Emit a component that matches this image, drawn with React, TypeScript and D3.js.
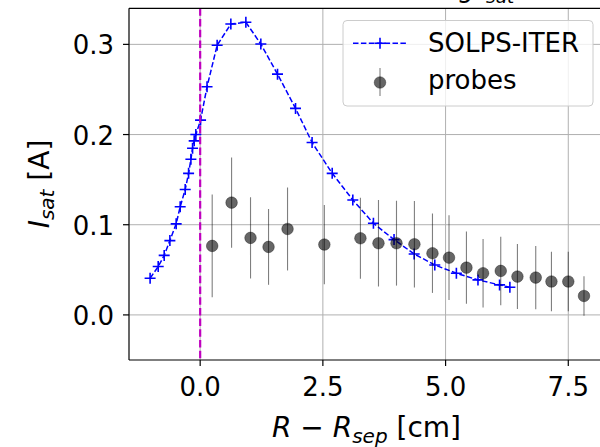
import React from "react";
import * as d3 from "d3";

const solpsX = [-1.02, -0.855, -0.733, -0.617, -0.489, -0.407, -0.305, -0.236, -0.189, -0.155, -0.122, -0.088, 0.008, 0.14, 0.346, 0.625, 0.931, 1.236, 1.576, 1.943, 2.28, 2.69, 3.11, 3.53, 3.95, 4.36, 4.78, 5.22, 5.66, 6.10, 6.31];
const solpsY = [0.0407, 0.0536, 0.066, 0.0824, 0.101, 0.120, 0.139, 0.157, 0.1726, 0.1848, 0.193, 0.200, 0.216, 0.253, 0.299, 0.3226, 0.3245, 0.3004, 0.267, 0.229, 0.1912, 0.157, 0.1275, 0.1016, 0.0835, 0.0676, 0.0554, 0.0462, 0.0388, 0.0333, 0.0307];

const probeX = [0.245, 0.64, 1.026, 1.393, 1.78, 2.53, 3.265, 3.633, 4.0, 4.365, 4.733, 5.07, 5.425, 5.764, 6.124, 6.464, 6.837, 7.157, 7.5, 7.82];
const probeY = [0.0765, 0.1245, 0.0854, 0.0754, 0.0953, 0.078, 0.085, 0.0795, 0.0795, 0.0784, 0.0684, 0.0635, 0.0524, 0.0462, 0.0488, 0.0425, 0.0414, 0.037, 0.037, 0.021];
const probeErr = [0.057, 0.05, 0.045, 0.042, 0.046, 0.044, 0.045, 0.048, 0.047, 0.048, 0.044, 0.047, 0.04, 0.038, 0.038, 0.036, 0.035, 0.033, 0.033, 0.022];

const xTicks = [0, 2.5, 5, 7.5];
const yTicks = [0, 0.1, 0.2, 0.3];
const seriesNames = ["SOLPS-ITER", "probes"];

const W = 600, H = 447;
const L = 129, R = 610, T = 8.3, B = 360;
const FONT = "DejaVu Sans, sans-serif";

export default function App() {
  const x = d3.scaleLinear().domain([-1.45, 8.35]).range([L, R]);
  const y = d3.scaleLinear().domain([-0.05, 0.34]).range([B, T]);
  const solps = solpsX.map((v, i) => [v, solpsY[i]] as [number, number]);
  const line = d3.line<[number, number]>().x(d => x(d[0])).y(d => y(d[1]));
  const plus = (cx: number, cy: number, k: string) => (
    <path key={k} d={`M${cx - 5.5},${cy}H${cx + 5.5}M${cx},${cy - 5.5}V${cy + 5.5}`} stroke="#0000ff" strokeWidth={1.6} fill="none" />
  );
  return (
    <svg width={W} height={H} style={{ position: "absolute", left: 0, top: 0 }} fontFamily={FONT}>
      <rect width={W} height={H} fill="#fff" />
      {/* title, mostly clipped above the figure as in the reference */}
      <text x={473} y={-3} fontSize={26} textAnchor="end" fill="#000">Profile along</text>
      <text x={478} y={-3} fontSize={26} fontStyle="italic" fill="#000">I</text>
      <text x={486} y={2.5} fontSize={18.5} fontStyle="italic" fill="#000">sat</text>
      <defs>
        <clipPath id="ax"><rect x={L} y={T} width={R - L} height={B - T} /></clipPath>
      </defs>
      {xTicks.map(t => <line key={"gx" + t} x1={x(t)} x2={x(t)} y1={T} y2={B} stroke="#b0b0b0" strokeWidth={1} />)}
      {yTicks.map(t => <line key={"gy" + t} x1={L} x2={R} y1={y(t)} y2={y(t)} stroke="#b0b0b0" strokeWidth={1} />)}
      <g clipPath="url(#ax)">
        <path d={line(solps) || ""} fill="none" stroke="#0000ff" strokeWidth={1.5} strokeDasharray="5.5,2.4" />
        {solps.map((d, i) => plus(x(d[0]), y(d[1]), "s" + i))}
        {probeX.map((v, i) => (
          <line key={"e" + i} x1={x(v)} x2={x(v)} y1={y(probeY[i] - probeErr[i])} y2={y(probeY[i] + probeErr[i])} stroke="#000" strokeOpacity={0.5} strokeWidth={1.1} />
        ))}
        {probeX.map((v, i) => (
          <circle key={"p" + i} cx={x(v)} cy={y(probeY[i])} r={5.8} fill="#000" fillOpacity={0.6} stroke="#000" strokeOpacity={0.35} strokeWidth={1} />
        ))}
        <line x1={x(0)} x2={x(0)} y1={T} y2={B} stroke="#bf00bf" strokeWidth={2.2} strokeDasharray="7.5,3.2" />
      </g>
      <line x1={L} x2={L} y1={T} y2={B} stroke="#000" strokeWidth={1.2} />
      <line x1={L} x2={R} y1={B} y2={B} stroke="#000" strokeWidth={1.2} />
      <line x1={L} x2={R} y1={T} y2={T} stroke="#000" strokeWidth={1.2} />
      {xTicks.map(t => (
        <g key={"tx" + t}>
          <line x1={x(t)} x2={x(t)} y1={B} y2={B + 6} stroke="#000" strokeWidth={1.2} />
          <text x={x(t)} y={396} fontSize={26} textAnchor="middle" fill="#000">{t.toFixed(1)}</text>
        </g>
      ))}
      {yTicks.map(t => (
        <g key={"ty" + t}>
          <line x1={L - 6} x2={L} y1={y(t)} y2={y(t)} stroke="#000" strokeWidth={1.2} />
          <text x={114} y={y(t) + 10} fontSize={26} textAnchor="end" fill="#000">{t.toFixed(1)}</text>
        </g>
      ))}
      {/* x label: R − R_sep [cm] */}
      <text x={366.5} y={437} fontSize={28} textAnchor="middle" fill="#000" style={{ whiteSpace: "pre" }}>
        <tspan fontStyle="italic">R</tspan>
        <tspan>{" \u2212 "}</tspan>
        <tspan fontStyle="italic">R</tspan>
        <tspan fontStyle="italic" fontSize={20} dy={5.5}>sep</tspan>
        <tspan dy={-5.5}>{" [cm]"}</tspan>
      </text>
      {/* y label: I_sat [A] */}
      <text transform="translate(48.5,184) rotate(-90)" fontSize={28} textAnchor="middle" fill="#000" style={{ whiteSpace: "pre" }}>
        <tspan fontStyle="italic">I</tspan>
        <tspan fontStyle="italic" fontSize={20} dy={5.5}>sat</tspan>
        <tspan dy={-5.5}>{" [A]"}</tspan>
      </text>
      {/* legend */}
      <rect x={343} y={20.5} width={250} height={85.5} rx={4} fill="#fff" fillOpacity={0.8} stroke="#cccccc" strokeWidth={1} />
      <line x1={353} x2={407} y1={43.3} y2={43.3} stroke="#0000ff" strokeWidth={1.5} strokeDasharray="5.5,2.4" />
      {plus(380, 43.3, "lg")}
      <text x={428} y={52} fontSize={26} fill="#000">{seriesNames[0]}</text>
      <line x1={380} x2={380} y1={68} y2={96} stroke="#000" strokeOpacity={0.5} strokeWidth={1.1} />
      <circle cx={380} cy={82.5} r={5.8} fill="#000" fillOpacity={0.6} stroke="#000" strokeOpacity={0.35} strokeWidth={1} />
      <text x={428} y={89} fontSize={26} fill="#000">{seriesNames[1]}</text>
    </svg>
  );
}
